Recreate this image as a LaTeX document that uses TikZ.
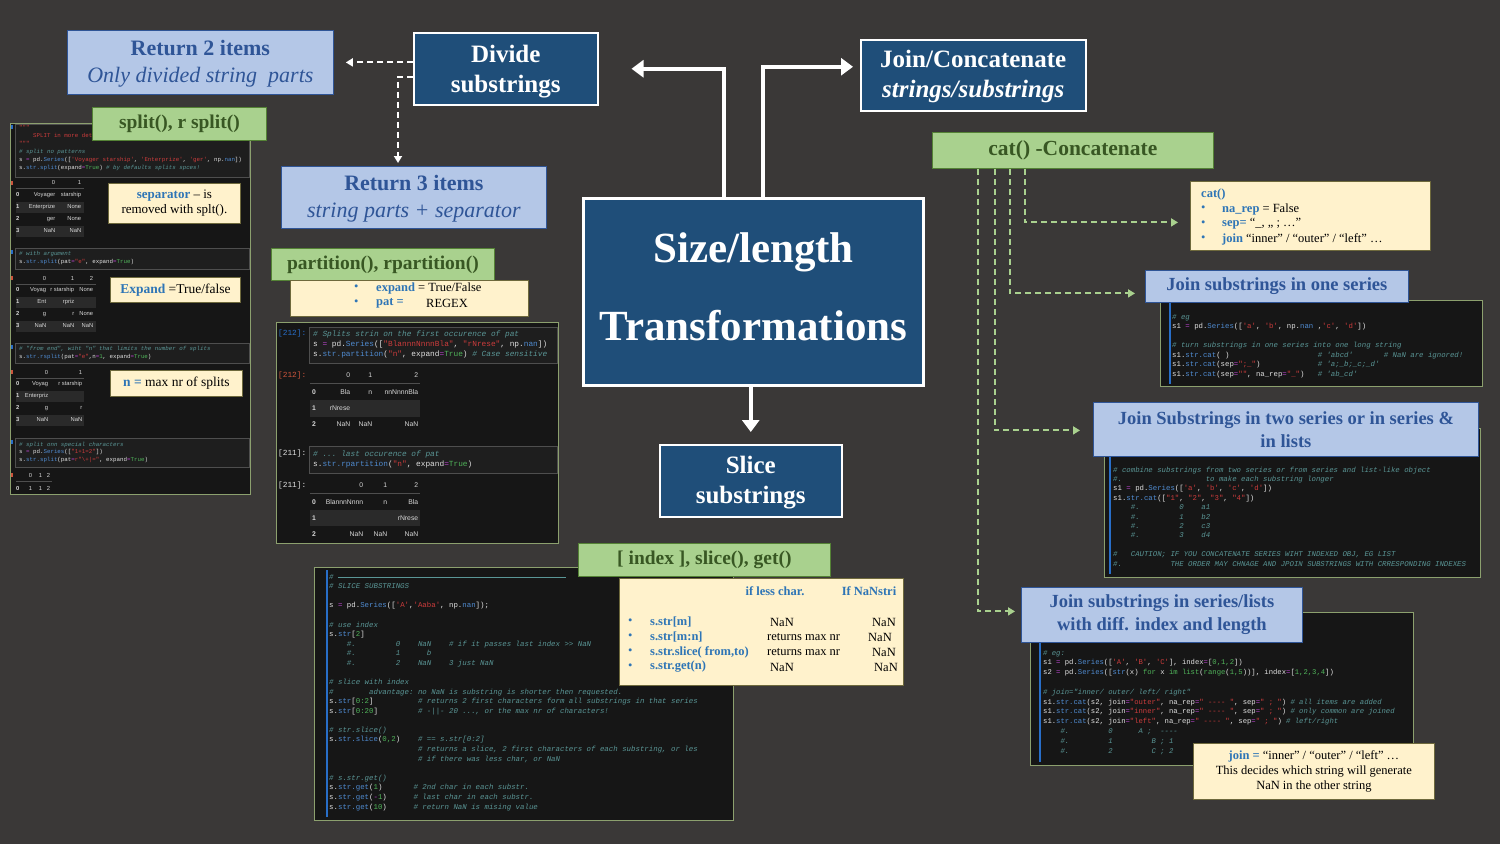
\documentclass[tikz,border=0pt]{standalone}
\usepackage{fontspec}
\setmainfont{Liberation Serif}
\setsansfont{Liberation Sans}
\setmonofont{Liberation Mono}
\usetikzlibrary{arrows.meta,calc}
\definecolor{bg}{RGB}{58,56,55}
\definecolor{dblue}{RGB}{31,78,121}
\definecolor{lblue}{RGB}{180,199,231}
\definecolor{tblue}{RGB}{47,85,151}
\definecolor{lgreen}{RGB}{169,209,142}
\definecolor{bgreen}{RGB}{84,130,53}
\definecolor{tgreen}{RGB}{56,87,35}
\definecolor{lyel}{RGB}{255,242,204}
\definecolor{byel}{RGB}{110,105,60}
\definecolor{kblue}{RGB}{46,117,182}
\definecolor{panel}{RGB}{22,22,22}
\definecolor{pborder}{RGB}{140,160,110}
\definecolor{cellbg}{RGB}{30,30,30}
\definecolor{cellbd}{RGB}{78,78,78}
\definecolor{codefg}{RGB}{225,225,225}
\definecolor{ccom}{RGB}{90,150,150}
\definecolor{cstr}{RGB}{205,60,60}
\definecolor{cfn}{RGB}{80,140,210}
\definecolor{ceq}{RGB}{190,70,210}
\definecolor{cgrn}{RGB}{80,180,90}
\definecolor{jbar}{RGB}{40,110,200}
\definecolor{tblfg}{RGB}{215,215,215}
\definecolor{rowsh}{RGB}{42,42,42}
\definecolor{inred}{RGB}{205,85,60}
\newcommand\spc[1]{\hspace*{\dimexpr #1\fontdimen2\font\relax}}
\newcommand\Cc[1]{{\color{ccom}\itshape #1}}
\newcommand\Cs[1]{{\color{cstr}#1}}
\newcommand\Cf[1]{{\color{cfn}#1}}
\newcommand\Ce{{\color{ceq}=}}
\newcommand\Cg[1]{{\color{cgrn}#1}}
\newcommand\rc[2]{\makebox[#1pt][r]{#2}}
\newcommand\ix[1]{\makebox[8pt][l]{\bfseries #1}}
\newcommand\ixm[1]{\makebox[10pt][l]{\bfseries #1}}
\newcommand\kb[1]{{\color{kblue}\bfseries #1}}
\begin{document}
\begin{tikzpicture}[x=1pt,y=-1pt,
  dbox/.style={draw=white, line width=1.5pt, fill=dblue, text=white, anchor=north west, inner sep=0pt, align=center},
  dtxt/.style={text=white, inner sep=0pt, align=center},
  lbbox/.style={draw=tblue, line width=0.8pt, fill=lblue, text=tblue, anchor=north west, inner sep=0pt, align=center},
  ltxt/.style={text=tblue, inner sep=0pt, align=center},
  gbox/.style={draw=bgreen, line width=0.8pt, fill=lgreen, text=tgreen, anchor=north west, inner sep=0pt, align=center, font=\fontsize{19.5}{22}\selectfont\bfseries},
  ybox/.style={draw=byel, line width=0.8pt, fill=lyel, text=black, anchor=north west, inner sep=0pt, align=center, font=\fontsize{13}{15}\selectfont},
  ytxt/.style={inner sep=0pt, anchor=west, text=black, font=\fontsize{12.5}{15}\selectfont},
  panelbox/.style={draw=pborder, fill=panel, anchor=north west, inner sep=0pt, line width=0.8pt},
  cellbox/.style={draw=cellbd, fill=cellbg, line width=0.5pt},
  codeblk/.style={anchor=north west, inner sep=0pt, align=left, text=codefg},
  trow/.style={anchor=west, inner sep=0pt, text=tblfg, font=\fontsize{5.8}{7}\selectfont\sffamily},
  trowm/.style={anchor=west, inner sep=0pt, text=tblfg, font=\fontsize{6.8}{8}\selectfont\sffamily},
  lbl/.style={anchor=west, inner sep=0pt, font=\fontsize{7.8}{9}\selectfont\ttfamily},
  bigarrow/.style={draw=white, line width=4.5pt, -{Triangle[length=12pt,width=17pt]}},
  wdash/.style={draw=white, line width=2pt, dash pattern=on 6pt off 4pt, -{Triangle[length=7pt,width=8pt]}},
  gdash/.style={draw=lgreen, line width=2pt, dash pattern=on 6pt off 4pt, -{Triangle[length=7pt,width=8pt]}},
  jb/.style={draw=jbar, line width=1.5pt}
]
\fill[bg] (0,0) rectangle (1500,844);
\useasboundingbox (0,0) rectangle (1500,844);

% ================= LEFT CODE PANEL =================
\node[panelbox, minimum width=240pt, minimum height=371pt] (pL) at (10,123) {};
\filldraw[cellbox] (15,124) rectangle (249,177);
\filldraw[cellbox] (15,248) rectangle (249,269);
\filldraw[cellbox] (15,343) rectangle (249,363);
\filldraw[cellbox] (15,438) rectangle (249,467);
\foreach \yy/\cc in {127/jbar,183/inred,252/jbar,278/inred,347/jbar,372/inred,442/jbar,475/inred}
  \fill[\cc] (11,\yy-2) rectangle (12.5,\yy+2);
\node[codeblk, font=\fontsize{5.8}{8}\selectfont\ttfamily] (lc1) at (19,124) {\strut\Cs{"""}\\
\Cs{\spc{4}SPLIT in more details}\\
\Cs{"""}\\
\Cc{\# split no patterns}\\
s \Ce{} pd.\Cf{Series}([\Cs{'Voyager starship'}, \Cs{'Enterprize'}, \Cs{'ger'}, np.\Cf{nan}])\\
s.\Cf{str.split}(expand\Ce\Cg{True}) \Cc{\# by defaults splits spces!}};
\node[codeblk, font=\fontsize{5.8}{8}\selectfont\ttfamily] (lc2) at (19,249.8) {\strut\Cc{\# with argument}\\
s.\Cf{str.split}(pat\Ce\Cs{"e"}, expand\Ce\Cg{True})};
\node[codeblk, font=\fontsize{5.8}{8}\selectfont\ttfamily] (lc3) at (19,344.8) {\strut\Cc{\# "from end", wiht "n" that limits the number of splits}\\
s.\Cf{str.rsplit}(pat\Ce\Cs{"e"},n\Ce\Cg{1}, expand\Ce\Cg{True})};
\node[codeblk, font=\fontsize{5.8}{7.6}\selectfont\ttfamily] (lc4) at (19,440.8) {\strut\Cc{\# split onn special characters}\\
s \Ce{} pd.\Cf{Series}([\Cs{"1+1=2"}])\\
s.\Cf{str.split}(pat\Ce\Cs{r"\textbackslash+|="}, expand\Ce\Cg{True})};
% table 1
\fill[rowsh] (16,201.5) rectangle (84,212.5);
\fill[rowsh] (16,225.5) rectangle (84,236.5);
\draw[cellbd, line width=0.5pt] (16,188) -- (84,188);
\node[trow] at (16,182) {\ix{}\rc{31}{0}\rc{26}{1}};
\node[trow] at (16,195) {\ix{0}\rc{31}{Voyager}\rc{26}{starship}};
\node[trow] at (16,207) {\ix{1}\rc{31}{Enterprize}\rc{26}{None}};
\node[trow] at (16,219) {\ix{2}\rc{31}{ger}\rc{26}{None}};
\node[trow] at (16,231) {\ix{3}\rc{31}{NaN}\rc{26}{NaN}};
% table 2
\fill[rowsh] (16,296.5) rectangle (96,307.5);
\fill[rowsh] (16,320.5) rectangle (96,331.5);
\draw[cellbd, line width=0.5pt] (16,284) -- (96,284);
\node[trow] at (16,278) {\ix{}\rc{22}{0}\rc{28}{1}\rc{19}{2}};
\node[trow] at (16,290) {\ix{0}\rc{22}{Voyag}\rc{28}{r starship}\rc{19}{None}};
\node[trow] at (16,302) {\ix{1}\rc{22}{Ent}\rc{28}{rpriz}\rc{19}{}};
\node[trow] at (16,314) {\ix{2}\rc{22}{g}\rc{28}{r}\rc{19}{None}};
\node[trow] at (16,326) {\ix{3}\rc{22}{NaN}\rc{28}{NaN}\rc{19}{NaN}};
% table 3
\fill[rowsh] (16,390.5) rectangle (84,401.5);
\fill[rowsh] (16,414.5) rectangle (84,425.5);
\draw[cellbd, line width=0.5pt] (16,378) -- (84,378);
\node[trow] at (16,372) {\ix{}\rc{24}{0}\rc{34}{1}};
\node[trow] at (16,384) {\ix{0}\rc{24}{Voyag}\rc{34}{r starship}};
\node[trow] at (16,396) {\ix{1}\rc{24}{Enterpriz}\rc{34}{}};
\node[trow] at (16,408) {\ix{2}\rc{24}{g}\rc{34}{r}};
\node[trow] at (16,420) {\ix{3}\rc{24}{NaN}\rc{34}{NaN}};
% table 4
\draw[cellbd, line width=0.5pt] (16,481) -- (52,481);
\node[trow] at (16,475) {\ix{}\rc{8}{0}\rc{10}{1}\rc{8}{2}};
\node[trow] at (16,488) {\ix{0}\rc{8}{1}\rc{10}{1}\rc{8}{2}};

% ================= MIDDLE CODE PANEL =================
\node[panelbox, minimum width=282pt, minimum height=221pt] (pM) at (276,322) {};
\filldraw[cellbox] (309,327) rectangle (557,363);
\filldraw[cellbox] (309,446) rectangle (557,473);
\node[lbl, text=jbar] at (278,333) {[212]:};
\node[lbl, text=inred] at (278,375) {[212]:};
\node[lbl, text=codefg] at (278,453) {[211]:};
\node[lbl, text=codefg] at (278,485) {[211]:};
\node[codeblk, font=\fontsize{7.8}{10}\selectfont\ttfamily] (mc1) at (313,329) {\strut\Cc{\# Splits strin on the first occurence of pat}\\
s \Ce{} pd.\Cf{Series}([\Cs{"BlannnNnnnBla"}, \Cs{"rNrese"}, np.\Cf{nan}])\\
s.\Cf{str.partition}(\Cs{"n"}, expand\Ce\Cg{True}) \Cc{\# Case sensitive}};
\node[codeblk, font=\fontsize{7.8}{10}\selectfont\ttfamily] (mc2) at (313,449) {\strut\Cc{\# ... last occurence of pat}\\
s.\Cf{str.rpartition}(\Cs{"n"}, expand\Ce\Cg{True})};
% table A
\draw[cellbd, line width=0.5pt] (310,383) -- (420,383);
\fill[rowsh] (310,400) rectangle (420,417);
\node[trowm] at (312,375) {\ixm{}\rc{28}{0}\rc{22}{1}\rc{46}{2}};
\node[trowm] at (312,392) {\ixm{0}\rc{28}{Bla}\rc{22}{n}\rc{46}{nnNnnnBla}};
\node[trowm] at (312,408) {\ixm{1}\rc{28}{rNrese}\rc{22}{}\rc{46}{}};
\node[trowm] at (312,424) {\ixm{2}\rc{28}{NaN}\rc{22}{NaN}\rc{46}{NaN}};
% table B
\draw[cellbd, line width=0.5pt] (310,493) -- (420,493);
\fill[rowsh] (310,510) rectangle (420,526);
\node[trowm] at (312,485) {\ixm{}\rc{41}{0}\rc{24}{1}\rc{31}{2}};
\node[trowm] at (312,502) {\ixm{0}\rc{41}{BlannnNnnn}\rc{24}{n}\rc{31}{Bla}};
\node[trowm] at (312,518) {\ixm{1}\rc{41}{}\rc{24}{}\rc{31}{rNrese}};
\node[trowm] at (312,534) {\ixm{2}\rc{41}{NaN}\rc{24}{NaN}\rc{31}{NaN}};

% ================= BOTTOM CODE PANEL =================
\node[panelbox, minimum width=419pt, minimum height=253pt] (pB) at (314,567) {};
\draw[jb] (327,570) -- (327,817);
\node[codeblk, font=\fontsize{7.4}{9.58}\selectfont\ttfamily] (bc) at (329,572.2) {\strut\Cc{\# {\rule[2pt]{228pt}{0.5pt}}}\\
\Cc{\# SLICE SUBSTRINGS}\\
~\\
s \Ce{} pd.\Cf{Series}([\Cs{'A'},\Cs{'Aaba'}, np.\Cf{nan}]);\\
~\\
\Cc{\# use index}\\
s.\Cf{str}[\Cg{2}]\\
\spc{4}\Cc{\#.\spc{9}0\spc{4}NaN\spc{4}\# if it passes last index >> NaN}\\
\spc{4}\Cc{\#.\spc{9}1\spc{6}b}\\
\spc{4}\Cc{\#.\spc{9}2\spc{4}NaN\spc{4}3 just NaN}\\
~\\
\Cc{\# slice with index}\\
\Cc{\#\spc{8}advantage: no NaN is substring is shorter then requested.}\\
s.\Cf{str}[\Cg{0:2}]\spc{10}\Cc{\# returns 2 first characters form all substrings in that series}\\
s.\Cf{str}[\Cg{0:20}]\spc{9}\Cc{\# -||- 20 ..., or the max nr of characters!}\\
~\\
\Cc{\# str.slice()}\\
s.\Cf{str.slice}(\Cg{0,2})\spc{4}\Cc{\# == s.str[0:2]}\\
\spc{20}\Cc{\# returns a slice, 2 first characters of each substring, or les}\\
\spc{20}\Cc{\# if there was less char, or NaN}\\
~\\
\Cc{\# s.str.get()}\\
s.\Cf{str.get}(\Cg{1})\spc{7}\Cc{\# 2nd char in each substr.}\\
s.\Cf{str.get}({\color{ceq}-}\Cg{1})\spc{6}\Cc{\# last char in each substr.}\\
s.\Cf{str.get}(\Cg{10})\spc{6}\Cc{\# return NaN is mising value}};

% ================= RIGHT CODE PANELS =================
\node[panelbox, minimum width=322pt, minimum height=86pt] (pR1) at (1160,300) {};
\draw[jb] (1170,303) -- (1170,384);
\node[codeblk, font=\fontsize{7.35}{9.5}\selectfont\ttfamily] (rc1) at (1172,312.3) {\strut\Cc{\# eg}\\
s1 \Ce{} pd.\Cf{Series}([\Cs{'a'}, \Cs{'b'}, np.\Cf{nan} ,\Cs{'c'}, \Cs{'d'}])\\
~\\
\Cc{\# turn substrings in one series into one long string}\\
s1.\Cf{str.cat}( )\spc{20}\Cc{\# 'abcd'\spc{7}\# NaN are ignored!}\\
s1.\Cf{str.cat}(sep\Ce\Cs{";\_"})\spc{13}\Cc{\# 'a;\_b;\_c;\_d'}\\
s1.\Cf{str.cat}(sep\Ce\Cs{""}, na\_rep\Ce\Cs{"\_"})\spc{3}\Cc{\# 'ab\_cd'}};

\node[panelbox, minimum width=376pt, minimum height=149pt] (pR2) at (1104,428) {};
\draw[jb] (1110,431) -- (1110,574);
\node[codeblk, font=\fontsize{7.35}{9.4}\selectfont\ttfamily] (rc2) at (1113,465.3) {\strut\Cc{\# combine substrings from two series or from series and list-like object}\\
\Cc{\#.\spc{19}to make each substring longer}\\
s1 \Ce{} pd.\Cf{Series}([\Cs{'a'}, \Cs{'b'}, \Cs{'c'}, \Cs{'d'}])\\
s1.\Cf{str.cat}([\Cs{"1"}, \Cs{"2"}, \Cs{"3"}, \Cs{"4"}])\\
\spc{4}\Cc{\#.\spc{9}0\spc{4}a1}\\
\spc{4}\Cc{\#.\spc{9}1\spc{4}b2}\\
\spc{4}\Cc{\#.\spc{9}2\spc{4}c3}\\
\spc{4}\Cc{\#.\spc{9}3\spc{4}d4}\\
~\\
\Cc{\#\spc{3}CAUTION; IF YOU CONCATENATE SERIES WIHT INDEXED OBJ, EG LIST}\\
\Cc{\#.\spc{11}THE ORDER MAY CHNAGE AND JPOIN SUBSTRINGS WITH CRRESPONDING INDEXES}};

\node[panelbox, minimum width=383pt, minimum height=153pt] (pR3) at (1030,612) {};
\draw[jb] (1040,615) -- (1040,762);
\node[codeblk, font=\fontsize{7.23}{9.8}\selectfont\ttfamily] (rc3) at (1043,648) {\strut\Cc{\# eg:}\\
s1 \Ce{} pd.\Cf{Series}([\Cs{'A'}, \Cs{'B'}, \Cs{'C'}], index\Ce[\Cg{0,1,2}])\\
s2 \Ce{} pd.\Cf{Series}([\Cf{str}(x) \Cg{for} x \Cg{im} \Cg{list}(\Cg{range}(\Cg{1,5}))], index\Ce[\Cg{1,2,3,4}])\\
~\\
\Cc{\# join="inner/ outer/ left/ right"}\\
s1.\Cf{str.cat}(s2, join\Ce\Cs{"outer"}, na\_rep\Ce\Cs{" ---- "}, sep\Ce\Cs{" ; "}) \Cc{\# all items are added}\\
s1.\Cf{str.cat}(s2, join\Ce\Cs{"inner"}, na\_rep\Ce\Cs{" ---- "}, sep\Ce\Cs{" ; "}) \Cc{\# only common are joined}\\
s1.\Cf{str.cat}(s2, join\Ce\Cs{"left"}, na\_rep\Ce\Cs{" ---- "}, sep\Ce\Cs{" ; "}) \Cc{\# left/right}\\
\spc{4}\Cc{\#.\spc{9}0\spc{6}A ;\spc{2}----}\\
\spc{4}\Cc{\#.\spc{9}1\spc{9}B ; 1}\\
\spc{4}\Cc{\#.\spc{9}2\spc{9}C ; 2}};

% ================= HEADING BOXES =================
\node[lbbox, minimum width=266pt, minimum height=64pt] (ret2) at (67,30) {};
\node[ltxt, font=\fontsize{22}{27}\selectfont] (ret2t) at ($(ret2.center)+(0,1.5)$) {{\bfseries Return 2 items}\\{\itshape Only divided string\ \ parts}};
\node[dbox, minimum width=184pt, minimum height=72pt] (divide) at (413,32) {};
\node[dtxt, font=\fontsize{25}{30}\selectfont\bfseries] (dividet) at ($(divide.center)+(0,2.5)$) {Divide\\substrings};
\node[lbbox, minimum width=265pt, minimum height=62pt] (ret3) at (281,166) {};
\node[ltxt, font=\fontsize{22}{27}\selectfont] (ret3t) at ($(ret3.center)+(0,1.5)$) {{\bfseries Return 3 items}\\{\itshape string parts + separator}};
\node[gbox, minimum width=174pt, minimum height=33pt] (split) at (92,107) {split(), r split()};
\node[gbox, minimum width=223pt, minimum height=32pt] (part) at (271,248) {partition(), rpartition()};
\node[dbox, line width=3pt, minimum width=340pt, minimum height=187pt] (central) at (582,197) {};
\node[dtxt, font=\fontsize{43}{78}\selectfont\bfseries] (centralt) at ($(central.center)+(0,-5.5)$) {Size/length\\Transformations};
\node[dbox, minimum width=182pt, minimum height=72pt] (slice) at (659,444) {};
\node[dtxt, font=\fontsize{25}{30}\selectfont\bfseries] (slicet) at ($(slice.center)+(0,2)$) {Slice\\substrings};
\node[dbox, minimum width=225pt, minimum height=71pt] (join) at (860,39) {};
\node[dtxt, font=\fontsize{25}{30}\selectfont\bfseries] (joint) at ($(join.center)+(0,1.5)$) {Join/Concatenate\\{\itshape strings/substrings}};
\node[gbox, minimum width=281pt, minimum height=36pt, font=\fontsize{21.5}{24}\selectfont\bfseries] (catg) at (932,132) {cat() -Concatenate};
\node[gbox, minimum width=252pt, minimum height=33pt] (idx) at (578,543) {[ index ], slice(), get()};
\node[lbbox, minimum width=263pt, minimum height=32pt, font=\fontsize{18.5}{23}\selectfont\bfseries] (one) at (1145,270) {Join substrings in one series};
\node[lbbox, minimum width=385pt, minimum height=54pt, font=\fontsize{18.5}{23}\selectfont\bfseries] (two) at (1093,402) {Join Substrings in two series or in series \&\\in lists};
\node[lbbox, minimum width=281pt, minimum height=55pt, font=\fontsize{18.5}{23}\selectfont\bfseries] (diff) at (1021,587) {Join substrings in series/lists\\with diff. index and length};

% ================= YELLOW NOTE BOXES =================
\node[ybox, minimum width=132pt, minimum height=40pt] (sepn) at (108,183) {\kb{separator} – is\\removed with splt().};
\node[ybox, minimum width=130pt, minimum height=25pt, font=\fontsize{13.5}{15}\selectfont] (expn) at (110,277) {\kb{Expand} =True/false};
\node[ybox, minimum width=132pt, minimum height=26pt, font=\fontsize{13.5}{15}\selectfont] (nmax) at (110,370) {\kb{n =} max nr of splits};
\node[ybox, minimum width=238pt, minimum height=36pt] (partn) at (290,280) {};
\node[ytxt, text=kblue] at (354,288) {•};
\node[ytxt] at (376,288) {\kb{expand} = True/False};
\node[ytxt, text=kblue] at (354,303) {•};
\node[ytxt] at (376,303) {\kb{pat =}};
\node[ytxt] at (426,303) {REGEX};

\node[ybox, minimum width=240pt, minimum height=69pt] (catn) at (1190,181) {};
\node[ytxt] at (1201,194) {\kb{cat()}};
\node[ytxt, text=kblue] at (1201,209) {•};
\node[ytxt] at (1222,209) {\kb{na\_rep} = False};
\node[ytxt, text=kblue] at (1201,224) {•};
\node[ytxt] at (1222,224) {\kb{sep=} “\_, „ ; …”};
\node[ytxt, text=kblue] at (1201,239) {•};
\node[ytxt] at (1222,239) {\kb{join} “inner” / “outer” / “left” …};

\node[ybox, minimum width=284pt, minimum height=107pt] (stbl) at (619,578) {};
\node[ytxt, anchor=center] at (775,591) {\kb{if less char.}};
\node[ytxt, anchor=center] at (869,591) {\kb{If NaNstri}};
\foreach \yy/\lab/\vb/\xb/\vc/\xc in {622/s.str[m]/NaN/770/NaN/872, 637/s.str[m:n]/returns max nr/767/NaN/868, 652/s.str.slice( from{,}to)/returns max nr/767/NaN/872, 667/s.str.get(n)/NaN/770/NaN/874}{
  \node[ytxt, text=kblue] at (628,\yy) {•};
  \node[ytxt] at (650,\yy) {\kb{\lab}};
  \node[ytxt] at (\xb,\yy) {\vb};
  \node[ytxt] at (\xc,\yy) {\vc};
}

\node[ybox, minimum width=241pt, minimum height=56pt, font=\fontsize{12.5}{15}\selectfont] (joinn) at (1193,743) {\kb{join =} “inner” / “outer” / “left” …\\This decides which string will generate\\NaN in the other string};

% ================= CONNECTORS =================
\draw[bigarrow, shorten >=33pt] ([xshift=142pt]central.north west) |- (divide.east);
\draw[bigarrow, shorten >=7pt] ([xshift=181pt]central.north west) |- ([yshift=8.5pt]join.west);
\draw[bigarrow, shorten >=12pt] (central.south -| slice.north) -- (slice.north);
\draw[wdash, shorten >=12pt] (ret2.east -| divide.west) -- (ret2.east);
\draw[wdash, shorten >=3pt] ([yshift=-8pt]divide.west) -| ([xshift=117pt]ret3.north west);
\draw[gdash, shorten >=12pt] ([xshift=93pt]catg.south west) |- ([yshift=-6.5pt]catn.west);
\draw[gdash, shorten >=10pt] ([xshift=78pt]catg.south west) |- ([yshift=-7pt]one.west);
\draw[gdash, shorten >=13pt] ([xshift=63pt]catg.south west) |- ([yshift=-1pt]two.west);
\draw[gdash, shorten >=6pt] ([xshift=46pt]catg.south west) |- ([yshift=3.5pt]diff.west);
\end{tikzpicture}
\end{document}
